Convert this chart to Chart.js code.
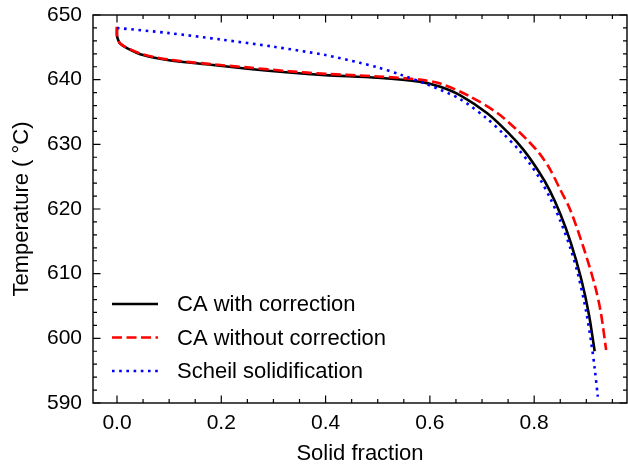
<!DOCTYPE html>
<html>
<head>
<meta charset="utf-8">
<script src="https://cdn.jsdelivr.net/npm/chart.js@4.4.1/dist/chart.umd.min.js"></script>
<style>
  html, body { margin: 0; padding: 0; background: #fff; }
  canvas { display: block; }
</style>
</head>
<body>
<canvas id="c" width="628" height="468"></canvas>
<script>
// ---- data ----
const seriesLabels = ['CA with correction', 'CA without correction', 'Scheil solidification'];

const caCorrFrac = [0, 0, 0.002, 0.006, 0.02, 0.05, 0.1, 0.18, 0.25, 0.33, 0.4, 0.5, 0.58, 0.62, 0.66, 0.71, 0.75, 0.78, 0.81, 0.83, 0.85, 0.87, 0.89, 0.905, 0.916];
const caCorrTemp = [648.1, 646.8, 646.2, 645.6, 644.85, 643.8, 643.0, 642.3, 641.7, 641.1, 640.7, 640.3, 639.7, 638.9, 637.5, 634.8, 631.8, 629.1, 625.65, 622.85, 619.25, 614.85, 609.25, 603.7, 598.0];

const caNoCorrFrac = [0, 0, 0.002, 0.006, 0.02, 0.05, 0.1, 0.18, 0.25, 0.33, 0.4, 0.5, 0.58, 0.62, 0.677, 0.73, 0.77, 0.79, 0.81, 0.83, 0.85, 0.869, 0.894, 0.917, 0.928, 0.938];
const caNoCorrTemp = [648.2, 646.8, 646.2, 645.6, 644.9, 643.9, 643.1, 642.4, 641.9, 641.3, 640.9, 640.5, 640.0, 639.4, 637.4, 634.8, 632.0, 630.4, 628.6, 626.2, 623.0, 619.9, 614.2, 608.0, 603.9, 598.2];

const scheilFrac = [0, 0.1, 0.2, 0.3, 0.4, 0.466, 0.5, 0.543, 0.594, 0.658, 0.709, 0.74, 0.77, 0.79, 0.81, 0.83, 0.85, 0.87, 0.885, 0.9, 0.91, 0.916, 0.922];
const scheilTemp = [648.0, 647.2, 646.2, 645.1, 643.8, 642.6, 641.9, 640.8, 639.3, 637.0, 634.0, 631.7, 629.2, 627.2, 624.8, 621.8, 618.2, 613.8, 609.6, 604.0, 599.0, 595.4, 591.0];

const xTickValues = [0, 0.2, 0.4, 0.6, 0.8];
const xTickLabels = ['0.0', '0.2', '0.4', '0.6', '0.8'];
const yTickValues = [590, 600, 610, 620, 630, 640, 650];
const yTickLabels = ['590', '600', '610', '620', '630', '640', '650'];
const xMinorStep = 0.05;
const yMinorStep = 2;

// ---- helpers ----
const toPoints = (xs, ys) => xs.map((x, i) => ({ x: x, y: ys[i] }));
const FONT = 'Liberation Sans, Arial, sans-serif';

const frameTicks = {
  id: 'frameTicks',
  afterDatasetsDraw(chart) {
    const { ctx, chartArea: a, scales: { x, y } } = chart;
    ctx.save();
    ctx.strokeStyle = '#000';
    ctx.lineWidth = 1.2;
    const major = 7.5, minor = 4;
    const isMajor = (v, list) => list.some(t => Math.abs(t - v) < 1e-6);
    for (let v = Math.ceil(x.min / xMinorStep) * xMinorStep; v <= x.max + 1e-9; v += xMinorStep) {
      const vv = Math.round(v * 1000) / 1000;
      const px = x.getPixelForValue(vv);
      const len = isMajor(vv, xTickValues) ? major : minor;
      ctx.beginPath();
      ctx.moveTo(px, a.bottom); ctx.lineTo(px, a.bottom - len);
      ctx.moveTo(px, a.top); ctx.lineTo(px, a.top + len);
      ctx.stroke();
    }
    for (let v = y.min; v <= y.max + 1e-9; v += yMinorStep) {
      const py = y.getPixelForValue(v);
      const len = isMajor(v, yTickValues) ? major : minor;
      ctx.beginPath();
      ctx.moveTo(a.left, py); ctx.lineTo(a.left + len, py);
      ctx.moveTo(a.right, py); ctx.lineTo(a.right - len, py);
      ctx.stroke();
    }
    ctx.lineWidth = 1.4;
    ctx.strokeRect(a.left, a.top, a.right - a.left, a.bottom - a.top);
    ctx.restore();
  }
};

const insideLegend = {
  id: 'insideLegend',
  afterDraw(chart) {
    const { ctx, chartArea: a } = chart;
    ctx.save();
    ctx.font = '22px ' + FONT;
    ctx.textBaseline = 'middle';
    ctx.fillStyle = '#000';
    const x0 = a.left + 19, x1 = a.left + 65, tx = a.left + 84;
    const yBase = a.bottom - 99, dy = 33.5;
    chart.data.datasets.forEach((ds, i) => {
      const yy = yBase + i * dy;
      ctx.save();
      ctx.strokeStyle = ds.borderColor;
      ctx.lineWidth = ds.borderWidth;
      ctx.setLineDash(ds.borderDash || []);
      ctx.lineCap = 'butt';
      ctx.beginPath(); ctx.moveTo(x0, yy); ctx.lineTo(x1, yy); ctx.stroke();
      ctx.restore();
      ctx.fillText(ds.label, tx, yy + 1);
    });
    ctx.restore();
  }
};

new Chart(document.getElementById('c'), {
  type: 'scatter',
  data: {
    datasets: [
      { label: seriesLabels[0], data: toPoints(caCorrFrac, caCorrTemp), showLine: true,
        borderColor: '#000000', borderWidth: 2.6, pointRadius: 0, tension: 0.3, order: 3 },
      { label: seriesLabels[1], data: toPoints(caNoCorrFrac, caNoCorrTemp), showLine: true,
        borderColor: '#ff0000', borderWidth: 2.6, borderDash: [10, 4.5], pointRadius: 0, tension: 0.3, order: 2 },
      { label: seriesLabels[2], data: toPoints(scheilFrac, scheilTemp), showLine: true,
        borderColor: '#0000ff', borderWidth: 2.6, borderDash: [2.6, 4.6], pointRadius: 0, tension: 0.3, order: 1 }
    ]
  },
  options: {
    responsive: false,
    devicePixelRatio: 1,
    animation: false,
    layout: { padding: { top: 15, right: 1, left: 0, bottom: 0 } },
    plugins: { legend: { display: false }, tooltip: { enabled: false } },
    scales: {
      x: {
        type: 'linear', min: -0.046, max: 0.978,
        grid: { display: false, drawTicks: false }, border: { display: false },
        afterBuildTicks: s => { s.ticks = xTickValues.map(v => ({ value: v })); },
        afterFit: s => { s.height = 65; s.paddingLeft = 0; s.paddingRight = 0; },
        ticks: { color: '#000', padding: 8, font: { family: FONT, size: 21 }, maxRotation: 0,
                 callback: (v, i) => xTickLabels[i] },
        title: { display: true, text: 'Solid fraction', color: '#000',
                 font: { family: FONT, size: 22, lineHeight: 1.2 }, padding: { top: 0, bottom: 1 } }
      },
      y: {
        type: 'linear', min: 590, max: 650,
        grid: { display: false, drawTicks: false }, border: { display: false },
        afterBuildTicks: s => { s.ticks = yTickValues.map(v => ({ value: v })); },
        afterFit: s => { s.width = 93; s.paddingTop = 0; s.paddingBottom = 0; },
        ticks: { color: '#000', padding: 11, font: { family: FONT, size: 21 },
                 callback: (v, i) => yTickLabels[i] },
        title: { display: true, text: 'Temperature ( °C)', color: '#000',
                 font: { family: FONT, size: 22, lineHeight: 1.2 }, padding: { top: 9, bottom: 0 } }
      }
    }
  },
  plugins: [frameTicks, insideLegend]
});
</script>
</body>
</html>
